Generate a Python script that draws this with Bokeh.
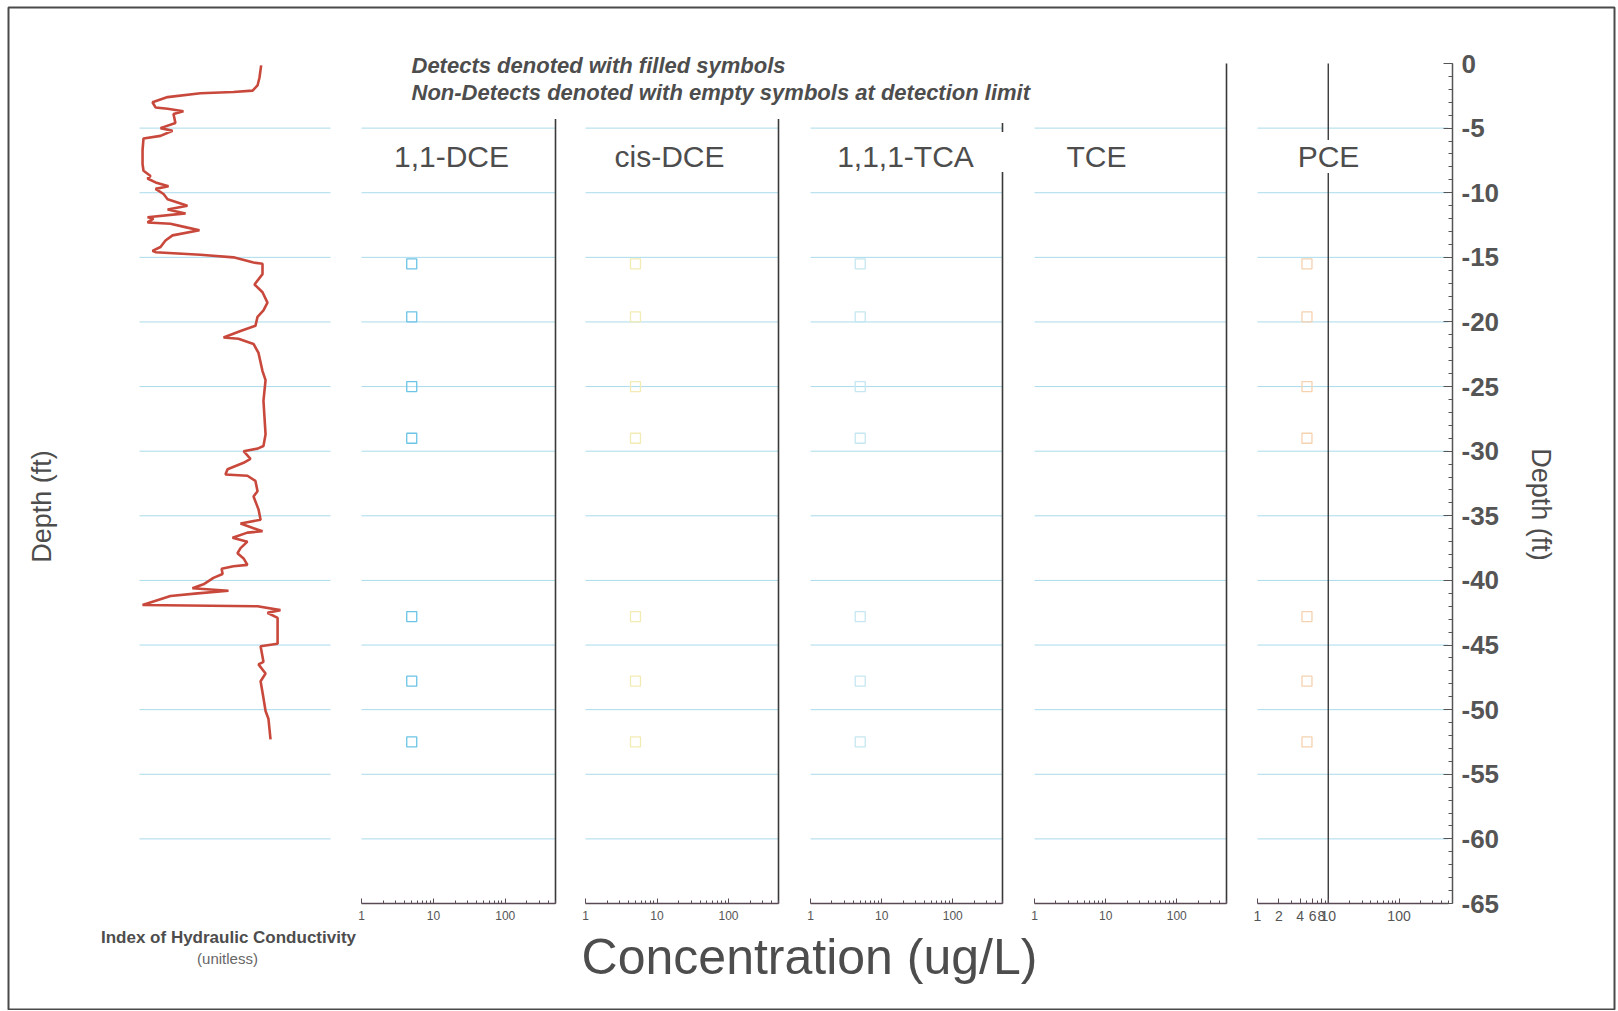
import math
from bokeh.plotting import figure
from bokeh.models import (Range1d, LogScale, LinearAxis, FixedTicker, Label, BoxAnnotation,
                          NumeralTickFormatter)
from bokeh.embed import file_html
from bokeh.resources import INLINE

# ---------------- data ----------------
# Index of hydraulic conductivity log (unitless, 0-100 scale) vs depth (ft)
HC_DEPTH = [-0.15, -1.1, -1.7, -2.1, -2.2, -2.3, -2.6, -3.0, -3.4, -3.5, -3.7, -3.9, -4.6, -5.0, -5.2,
            -5.6, -5.8, -6.7, -7.8, -8.3, -8.7, -8.9, -9.2, -9.5, -9.7, -10.1, -10.5, -11.0, -11.3,
            -11.6, -11.9, -12.0, -12.3, -12.4, -12.7, -12.9, -13.3, -13.7, -14.2, -14.5, -14.6, -14.8,
            -15.0, -15.4, -15.5, -16.3, -17.1, -17.7, -18.5, -19.1, -19.6, -20.3, -20.7, -21.2, -21.3,
            -21.7, -22.4, -23.8, -24.5, -26.1, -28.7, -29.6, -29.8, -30.0, -30.6, -30.9, -31.4, -31.8,
            -31.9, -32.3, -33.1, -33.5, -34.5, -35.3, -35.6, -36.2, -36.3, -36.7, -37.0, -37.5, -37.9,
            -38.3, -38.8, -38.9, -39.1, -39.5, -39.8, -40.3, -40.6, -40.8, -41.0, -41.2, -41.9, -42.0,
            -42.3, -42.5, -42.9, -44.9, -45.1, -46.3, -46.5, -47.2, -47.8, -49.1, -50.1, -50.7, -52.3]
HC_INDEX = [63.7, 62.8, 61.8, 59.2, 49.2, 31.9, 14.7, 6.8, 8.4, 14.7, 23.0, 17.8, 18.8, 11.0, 17.3,
            11.0, 2.1, 1.6, 1.6, 2.1, 5.8, 4.2, 8.4, 15.2, 8.4, 12.6, 14.7, 25.1, 14.7,
            24.1, 4.2, 7.3, 4.2, 16.2, 25.1, 31.4, 17.3, 13.6, 11.0, 6.8, 8.4, 31.9,
            49.2, 59.7, 64.4, 64.4, 60.2, 64.4, 67.0, 64.9, 61.8, 60.7, 52.9, 44.0, 51.8,
            59.7, 62.3, 64.4, 66.0, 64.9, 66.0, 64.9, 61.8, 54.5, 58.1, 54.5, 46.1, 45.0,
            56.5, 60.7, 61.8, 59.7, 62.3, 63.4, 52.9, 64.4, 56.5, 48.7, 56.5, 52.9, 51.3,
            54.5, 56.5, 49.2, 43.0, 43.5, 38.7, 33.5, 27.7, 46.6, 30.4, 16.2, 1.6, 61.8,
            73.8, 67.0, 72.3, 72.3, 63.4, 64.9, 62.3, 66.0, 63.4, 64.9, 66.0, 67.5, 68.6]

ANALYTES = ["1,1-DCE", "cis-DCE", "1,1,1-TCA", "TCE", "PCE"]
SAMPLE_DEPTH = [-15.5, -19.6, -25.0, -29.0, -42.8, -47.8, -52.5]
# non-detects plotted at detection limit (ug/L)
ND_VALUES = {
    "1,1-DCE": [5, 5, 5, 5, 5, 5, 5],
    "cis-DCE": [5, 5, 5, 5, 5, 5, 5],
    "1,1,1-TCA": [5, 5, 5, 5, 5, 5, 5],
    "TCE": [],
    "PCE": [5, 5, 5, 5, 5, 5, 5],
}
MARKER_COLORS = {"1,1-DCE": "#6cc4e6", "cis-DCE": "#f3ebb4", "1,1,1-TCA": "#c6e7f0",
                 "TCE": "#dddddd", "PCE": "#f5d2b0"}

CONC_TICKS = [1, 10, 100]
CONC_MINOR = [2, 3, 4, 5, 6, 7, 8, 9, 20, 30, 40, 50, 60, 70, 80, 90, 200, 300, 400, 500]
PCE_TICKS = [1, 2, 4, 6, 8, 10, 100]
DEPTH_TICKS = [0, -5, -10, -15, -20, -25, -30, -35, -40, -45, -50, -55, -60, -65]
DEPTH_MINOR = list(range(0, -66, -1))
GRID_DEPTHS = [-5, -10, -15, -20, -25, -30, -35, -40, -45, -50, -55, -60]
PCE_REF_LINE = 10

# ---------------- layout (pixels in the 1618x1011 image) ----------------
CANVAS_W, CANVAS_H = 1616, 1010
Y0_PX, Y65_PX = 63, 903          # pixel rows of depth 0 and -65
HC_L, HC_R = 139, 330            # pixel columns of HC index 0 and 100
DEPTH_AXIS_PX = 1452
PANEL_L = [361, 585, 810, 1034, 1257]
PANEL_R = [555, 778, 1002, 1226, 1448]
CONC_MIN, CONC_MAX = 1, 500
DEPTH_MIN, DEPTH_MAX = -65, 0
HC_MAX = 100
# where each panel's right frame line runs (ft)
BORDERS = {"1,1-DCE": [(-4.3, -65)], "cis-DCE": [(-4.3, -65)],
           "1,1,1-TCA": [(-4.6, -5.3), (-8.4, -65)], "TCE": [(0, -65)]}

x_per_px = HC_MAX / (HC_R - HC_L)
x_lo = -HC_L * x_per_px
x_hi = x_lo + CANVAS_W * x_per_px
y_per_px = (DEPTH_MAX - DEPTH_MIN) / (Y65_PX - Y0_PX)
y_hi = DEPTH_MAX + Y0_PX * y_per_px
y_lo = y_hi - CANVAS_H * y_per_px


def fx(px):
    return x_lo + px * x_per_px


def fy(py):
    return y_hi - py * y_per_px


TEXT = "#4d4d4d"
FONT = "Liberation Sans"

p = figure(width=CANVAS_W, height=CANVAS_H, x_range=Range1d(x_lo, x_hi),
           y_range=Range1d(y_lo, y_hi), x_axis_type=None, y_axis_type=None,
           toolbar_location=None, output_backend="svg",
           min_border_left=0, min_border_right=0, min_border_top=0, min_border_bottom=0)
p.title.visible = False
p.outline_line_color = None
p.background_fill_color = "white"
p.border_fill_color = "white"
p.xgrid.visible = False
p.ygrid.visible = False

# extra log ranges for the concentration panels
xr, xs = {}, {}
dec = math.log10(CONC_MAX) - math.log10(CONC_MIN)
for i, name in enumerate(ANALYTES):
    a, b = PANEL_L[i], PANEL_R[i]
    ppd = (b - a) / dec
    lo = math.log10(CONC_MIN) - a / ppd
    hi = math.log10(CONC_MAX) + (CANVAS_W - b) / ppd
    xr[name] = Range1d(10 ** lo, 10 ** hi)
    xs[name] = LogScale()
p.extra_x_ranges = xr
p.extra_x_scales = xs

GRID_COLOR = "#a9dbeb"
# HC panel gridlines and log
p.segment(x0=[0] * len(GRID_DEPTHS), x1=[HC_MAX] * len(GRID_DEPTHS), y0=GRID_DEPTHS, y1=GRID_DEPTHS,
          line_color=GRID_COLOR, line_width=1)
p.line(x=HC_INDEX, y=HC_DEPTH, line_color="#c9483c", line_width=2.6)

for name in ANALYTES:
    n = len(GRID_DEPTHS)
    p.segment(x0=[CONC_MIN] * n, x1=[CONC_MAX] * n, y0=GRID_DEPTHS, y1=GRID_DEPTHS,
              line_color=GRID_COLOR, line_width=1, x_range_name=name)
    for (top, bot) in BORDERS.get(name, []):
        p.segment(x0=[CONC_MAX], x1=[CONC_MAX], y0=[top], y1=[bot], line_color="#3a3a3a",
                  line_width=1.6, x_range_name=name)
    vals = ND_VALUES[name]
    if vals:
        p.scatter(x=vals, y=SAMPLE_DEPTH[:len(vals)], marker="square", size=10, fill_color=None,
                  line_color=MARKER_COLORS[name], line_width=1.3, x_range_name=name)
    ticks = PCE_TICKS if name == "PCE" else CONC_TICKS
    minor = [m for m in CONC_MINOR if m not in ticks]
    ax = LinearAxis(x_range_name=name, fixed_location=DEPTH_MIN, bounds=(CONC_MIN, CONC_MAX),
                    ticker=FixedTicker(ticks=ticks, minor_ticks=minor))
    ax.axis_line_color = "#5a4a55"
    ax.axis_line_width = 1.5
    ax.major_tick_in, ax.major_tick_out = 5, 0
    ax.minor_tick_in, ax.minor_tick_out = 3, 0
    ax.major_tick_line_color = "#5a4a55"
    ax.minor_tick_line_color = "#5a4a55"
    ax.major_label_text_font = FONT
    ax.major_label_text_font_size = "14px" if name == "PCE" else "12px"
    ax.major_label_text_color = "#555555"
    ax.major_label_standoff = 7
    p.add_layout(ax, "below")

# PCE reference line at 10 ug/L
p.segment(x0=[PCE_REF_LINE], x1=[PCE_REF_LINE], y0=[DEPTH_MAX], y1=[DEPTH_MIN], line_color="#3a3a3a",
          line_width=1.4, x_range_name="PCE")

# right depth axis
yax = LinearAxis(ticker=FixedTicker(ticks=DEPTH_TICKS, minor_ticks=DEPTH_MINOR),
                 fixed_location=fx(DEPTH_AXIS_PX), bounds=(DEPTH_MIN, DEPTH_MAX),
                 formatter=NumeralTickFormatter(format="0"))
yax.axis_line_color = "#555555"
yax.axis_line_width = 1.5
yax.major_tick_in, yax.major_tick_out = 9, 0
yax.minor_tick_in, yax.minor_tick_out = 4, 0
yax.major_tick_line_color = "#555555"
yax.minor_tick_line_color = "#555555"
yax.major_label_text_font = FONT
yax.major_label_text_font_size = "26px"
yax.major_label_text_font_style = "bold"
yax.major_label_text_color = "#555555"
yax.major_label_standoff = 9
p.add_layout(yax, "right")


# texts
def add_label(text, px, py, size, style="normal", angle=0.0, align="center", color=TEXT, bg=None):
    p.add_layout(Label(x=fx(px), y=fy(py), text=text, text_font=FONT, text_font_size=size,
                       text_font_style=style, text_color=color, text_align=align,
                       text_baseline="middle", angle=angle, background_fill_color=bg))


add_label("Detects denoted with filled symbols", 411, 65, "22px", "bold italic", align="left")
add_label("Non-Detects denoted with empty symbols at detection limit", 411, 92, "22px", "bold italic",
          align="left")
TITLE_X = [451, 669, 905, 1096, 1328]
for name, tx in zip(ANALYTES, TITLE_X):
    add_label(name, tx, 156, "30px", bg="white")
add_label("Concentration (ug/L)", 809, 956, "50px")
add_label("Index of Hydraulic Conductivity", 228, 937, "17px", "bold")
add_label("(unitless)", 227, 958, "15px", color="#666666")
add_label("Depth (ft)", 41, 506, "27px", angle=math.pi / 2)
add_label("Depth (ft)", 1540, 504, "27px", angle=-math.pi / 2)

# outer frame of the picture
p.add_layout(BoxAnnotation(left=fx(8), right=fx(1614), top=fy(7), bottom=fy(1009),
                           fill_color=None, fill_alpha=0, line_color="#4a4a4a", line_alpha=1.0,
                           line_width=2))

open("out.html", "w").write(file_html(p, INLINE))
